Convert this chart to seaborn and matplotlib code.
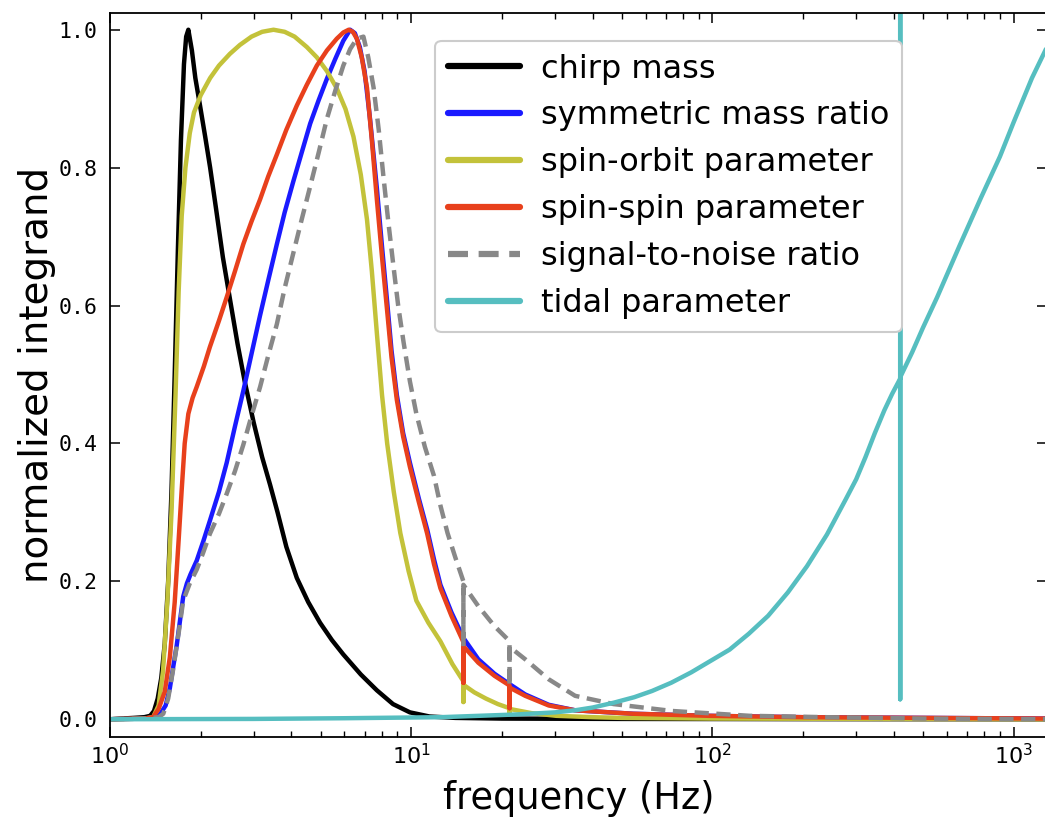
import numpy as np
import pandas as pd
import matplotlib
matplotlib.use("Agg")
import matplotlib.pyplot as plt
import seaborn as sns
from matplotlib.ticker import LogLocator, LogFormatterSciNotation, NullFormatter

# ---------------- data ----------------
series_names = ["chirp mass", "symmetric mass ratio", "spin-orbit parameter",
                "spin-spin parameter", "signal-to-noise ratio", "tidal parameter"]

chirp_f = [1.0, 1.2, 1.3, 1.36, 1.40, 1.44, 1.48, 1.52, 1.56, 1.60, 1.64, 1.68, 1.72,
           1.76, 1.79, 1.82, 1.87, 1.92, 1.99, 2.07, 2.15, 2.25, 2.37, 2.5, 2.65, 2.8,
           3.0, 3.2, 3.4, 3.6, 3.85, 4.17, 4.55, 4.98, 5.45, 5.95, 6.8, 7.69, 8.7,
           9.9, 11.5, 14, 20, 50, 200, 1300]
chirp_v = [0, 0.002, 0.003, 0.005, 0.012, 0.03, 0.06, 0.11, 0.2, 0.33, 0.5, 0.68, 0.84,
           0.95, 0.99, 1.0, 0.97, 0.93, 0.89, 0.845, 0.80, 0.74, 0.67, 0.61, 0.545, 0.49,
           0.43, 0.38, 0.34, 0.30, 0.25, 0.205, 0.17, 0.14, 0.115, 0.094, 0.065, 0.042,
           0.022, 0.010, 0.004, 0.002, 0.001, 0.0005, 0.0002, 0]

sym_f = [1.0, 1.3, 1.42, 1.47, 1.53, 1.58, 1.62, 1.665, 1.71, 1.75, 1.8, 1.85, 1.94,
         2.04, 2.146, 2.3, 2.44, 2.6, 2.77, 2.95, 3.15, 3.35, 3.58, 3.8, 4.06, 4.33,
         4.62, 4.93, 5.25, 5.6, 5.95, 6.27, 6.5, 6.75, 7.0, 7.3, 7.69, 8.0, 8.32, 8.6,
         8.96, 9.4, 9.9, 10.6, 11.3, 11.9, 12.5, 13.6, 14.9, 16.7, 18.9, 21.2, 23.9,
         28.6, 35, 54.6, 97, 200, 500, 1300]
sym_v = [0, 0.001, 0.003, 0.008, 0.02, 0.045, 0.075, 0.107, 0.145, 0.178, 0.197, 0.21,
         0.23, 0.258, 0.288, 0.33, 0.372, 0.425, 0.476, 0.53, 0.586, 0.636, 0.689, 0.735,
         0.78, 0.822, 0.864, 0.898, 0.929, 0.958, 0.984, 1.0, 0.995, 0.975, 0.94, 0.87,
         0.77, 0.685, 0.605, 0.535, 0.47, 0.415, 0.372, 0.32, 0.275, 0.232, 0.195, 0.155,
         0.118, 0.087, 0.066, 0.051, 0.036, 0.021, 0.013, 0.008, 0.005, 0.003, 0.002, 0.001]

so_f = [1.0, 1.3, 1.39, 1.45, 1.5, 1.55, 1.6, 1.65, 1.69, 1.73, 1.78, 1.84, 1.9, 2.0,
        2.15, 2.3, 2.5, 2.7, 2.95, 3.2, 3.49, 3.8, 4.1, 4.5, 4.86, 5.25, 5.66, 6.05,
        6.43, 6.8, 7.13, 7.4, 7.69, 8.0, 8.32, 8.75, 9.2, 9.8, 10.4, 11.4, 12.5, 13.7,
        14.9, 14.9, 14.9, 16.2, 17.7, 19.4, 21.2, 21.2, 21.2, 25, 30.3, 40, 50, 100, 1300]
so_v = [0, 0.001, 0.003, 0.02, 0.07, 0.17, 0.3, 0.47, 0.62, 0.73, 0.80, 0.85, 0.88,
        0.905, 0.93, 0.948, 0.965, 0.978, 0.99, 0.997, 1.0, 0.997, 0.99, 0.975, 0.96,
        0.94, 0.915, 0.885, 0.845, 0.79, 0.725, 0.65, 0.56, 0.47, 0.40, 0.33, 0.27,
        0.215, 0.172, 0.14, 0.113, 0.08, 0.055, 0.025, 0.05, 0.039, 0.03, 0.022, 0.016,
        0.008, 0.015, 0.009, 0.005, 0.003, 0.002, 0.001, 0]

ss_f = [1.0, 1.3, 1.39, 1.45, 1.52, 1.58, 1.64, 1.69, 1.73, 1.77, 1.82, 1.88, 1.94,
        2.05, 2.146, 2.3, 2.44, 2.6, 2.77, 2.95, 3.15, 3.35, 3.58, 3.85, 4.17, 4.5,
        4.86, 5.25, 5.66, 5.95, 6.2, 6.4, 6.6, 6.85, 7.13, 7.4, 7.69, 8.0, 8.32, 8.6,
        8.96, 9.4, 9.9, 10.6, 11.3, 11.9, 12.5, 13.6, 14.9, 14.9, 14.9, 16.7, 18.9,
        21.2, 21.2, 21.2, 23.9, 28.6, 35, 54.6, 97, 200, 500, 1300]
ss_v = [0, 0.001, 0.003, 0.015, 0.04, 0.09, 0.17, 0.26, 0.333, 0.40, 0.443, 0.466,
        0.482, 0.512, 0.54, 0.578, 0.612, 0.65, 0.689, 0.722, 0.754, 0.787, 0.819, 0.855,
        0.89, 0.92, 0.948, 0.97, 0.987, 0.996, 1.0, 0.997, 0.987, 0.96, 0.916, 0.84,
        0.754, 0.67, 0.592, 0.525, 0.463, 0.41, 0.366, 0.315, 0.269, 0.225, 0.19, 0.15,
        0.112, 0.053, 0.106, 0.082, 0.063, 0.049, 0.016, 0.046, 0.034, 0.020, 0.013,
        0.008, 0.005, 0.003, 0.002, 0.001]

snr_f = [1.0, 1.3, 1.45, 1.503, 1.56, 1.623, 1.69, 1.75, 1.84, 1.94, 2.04, 2.146, 2.3,
         2.44, 2.6, 2.77, 2.95, 3.15, 3.35, 3.58, 3.8, 4.06, 4.33, 4.62, 4.93, 5.25,
         5.6, 5.95, 6.27, 6.6, 6.94, 7.2, 7.5, 7.8, 8.09, 8.4, 8.73, 9.05, 9.43, 9.9,
         10.4, 11.1, 11.9, 12.5, 13.2, 14.0, 14.9, 14.9, 14.9, 16.7, 18.9, 20.9, 21.2,
         21.2, 21.2, 23.9, 28.6, 35, 47, 73.6, 133, 239, 500, 1300]
snr_v = [0, 0.001, 0.003, 0.008, 0.03, 0.074, 0.125, 0.172, 0.197, 0.217, 0.242, 0.269,
         0.298, 0.327, 0.36, 0.398, 0.44, 0.482, 0.527, 0.573, 0.625, 0.676, 0.725,
         0.773, 0.822, 0.871, 0.912, 0.948, 0.972, 0.987, 0.99, 0.96, 0.916, 0.855,
         0.786, 0.72, 0.657, 0.6, 0.547, 0.49, 0.443, 0.395, 0.353, 0.31, 0.27, 0.235,
         0.2, 0.106, 0.195, 0.164, 0.135, 0.116, 0.112, 0.048, 0.105, 0.087, 0.058,
         0.034, 0.022, 0.012, 0.005, 0.003, 0.001, 0]

tidal_f = [1.0, 3, 6, 12.5, 22.5, 30, 35, 40, 47, 55, 63, 73, 85, 98, 114, 132, 153,
           178, 206, 240, 277, 300, 322, 346, 372, 395, 420, 420, 420, 420, 460, 500,
           557, 660, 778, 900, 1000, 1150, 1300]
tidal_v = [0.0, 0.0005, 0.0015, 0.003, 0.007, 0.010, 0.013, 0.017, 0.024, 0.032, 0.041,
           0.053, 0.068, 0.084, 0.101, 0.124, 0.15, 0.184, 0.222, 0.268, 0.319, 0.348,
           0.38, 0.415, 0.448, 0.472, 0.494, 1.3, 0.029, 0.496, 0.532, 0.568, 0.612,
           0.686, 0.756, 0.816, 0.866, 0.93, 0.978]

ytick_values = [0.0, 0.2, 0.4, 0.6, 0.8, 1.0]

# ---------------- styling ----------------
sns.set_theme(style="ticks")
plt.rcParams["font.family"] = ["DejaVu Sans"]
plt.rcParams["mathtext.fontset"] = "dejavusans"
for k in ["text.color", "axes.labelcolor", "xtick.color", "ytick.color", "axes.edgecolor"]:
    plt.rcParams[k] = "black"

colors = ["black", "#1a1aff", "#c3c23a", "#e8401c", "#888888", "#56bec0"]

fig = plt.figure(figsize=(10.45, 8.19), dpi=100)
ax = fig.add_axes([110 / 1045, 82.5 / 819, 937 / 1045, 724 / 819])

all_f = [chirp_f, sym_f, so_f, ss_f, snr_f, tidal_f]
all_v = [chirp_v, sym_v, so_v, ss_v, snr_v, tidal_v]

for name, f, v, c in zip(series_names, all_f, all_v, colors):
    df = pd.DataFrame({"frequency": f, "value": v})
    kw = dict(color=c, lw=3.2, label=name)
    if name == "signal-to-noise ratio":
        kw["linestyle"] = (0, (3.2, 1.7))
    sns.lineplot(data=df, x="frequency", y="value", sort=False, estimator=None,
                 ax=ax, **kw)

ax.set_xscale("log")
ax.set_xlim(1, 1290)
ax.set_ylim(-0.025, 1.025)

ax.xaxis.set_major_locator(LogLocator(base=10))
ax.xaxis.set_minor_locator(LogLocator(base=10, subs=np.arange(2, 10)))
ax.xaxis.set_major_formatter(LogFormatterSciNotation())
ax.xaxis.set_minor_formatter(NullFormatter())

ax.set_yticks(ytick_values)
ax.set_yticklabels([f"{t:.1f}" for t in ytick_values], family="DejaVu Sans Mono",
                   fontsize=15.5)

ax.tick_params(which="both", direction="in", top=True, right=True, color="black")
ax.tick_params(which="major", length=7, width=1.1)
ax.tick_params(which="minor", length=4, width=1.0)
ax.tick_params(axis="y", pad=9)
ax.tick_params(axis="x", labelsize=16, pad=5)
for s in ax.spines.values():
    s.set_color("black")
    s.set_linewidth(1.3)

ax.set_xlabel("frequency (Hz)", fontsize=26.5, labelpad=8)
ax.set_ylabel("normalized integrand", fontsize=28, labelpad=2)

leg = ax.legend(loc="upper right", bbox_to_anchor=(0.845, 0.961), borderaxespad=0,
                fontsize=23, handlelength=2.25, handletextpad=0.65, borderpad=0.4,
                labelspacing=0.5, frameon=True, fancybox=True, framealpha=1)
leg.get_frame().set_edgecolor("#cccccc")
leg.get_frame().set_linewidth(1.5)
for line in leg.get_lines():
    line.set_linewidth(4.5)

fig.savefig("out.png", dpi=100)
